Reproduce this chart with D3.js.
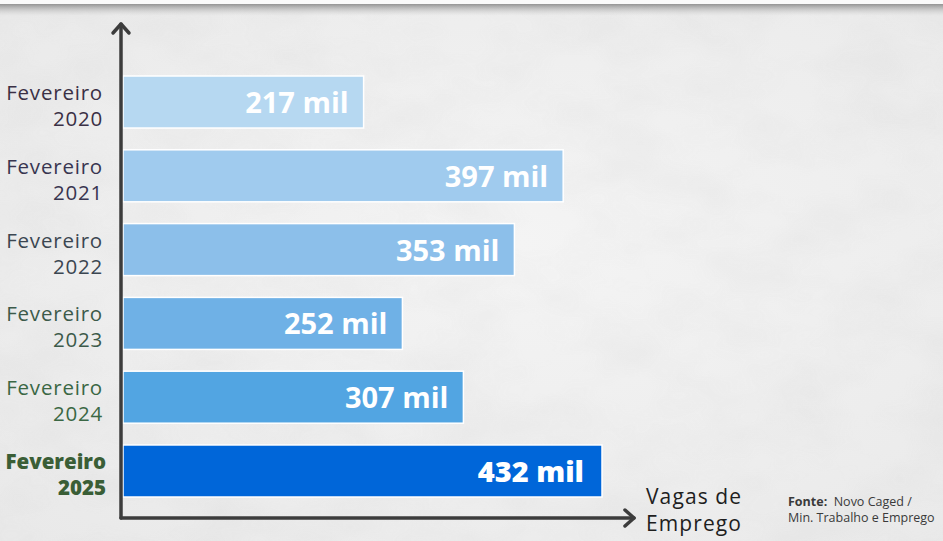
<!DOCTYPE html>
<html><head><meta charset="utf-8">
<script src="https://cdn.jsdelivr.net/npm/d3@7"></script>
<style>
html,body{margin:0;padding:0;background:#efefef;}
svg{display:block;}
</style></head>
<body>
<svg id="chart" width="943" height="541"></svg>
<script>
const categories = [["Fevereiro","2020"],["Fevereiro","2021"],["Fevereiro","2022"],["Fevereiro","2023"],["Fevereiro","2024"],["Fevereiro","2025"]];
const values = [217, 397, 353, 252, 307, 432];
const valueLabels = ["217 mil","397 mil","353 mil","252 mil","307 mil","432 mil"];
const barColors = ["#b6d8f1","#a0cbee","#8cbfea","#6fb1e6","#52a5e2","#0066d9"];
const labelColors = ["#3a3045","#383550","#3b4651","#3c5a4a","#3a6744","#3a5e36"];
const axisTitle = ["Vagas de","Emprego"];
const sourceLines = [["Fonte:","  Novo Caged /"],["","Min. Trabalho e Emprego"]];

const svg = d3.select("#chart");
const W = 943, H = 541;
const defs = svg.append("defs");

// background paper
const bg = defs.append("radialGradient").attr("id","bg").attr("cx","55%").attr("cy","45%").attr("r","75%");
bg.append("stop").attr("offset","0%").attr("stop-color","#f4f4f4");
bg.append("stop").attr("offset","100%").attr("stop-color","#e9e9e9");
svg.append("rect").attr("width",W).attr("height",H).attr("fill","url(#bg)");

// subtle crumple texture
const filt = defs.append("filter").attr("id","paper").attr("x",0).attr("y",0).attr("width","100%").attr("height","100%");
filt.append("feTurbulence").attr("type","fractalNoise").attr("baseFrequency","0.012 0.02").attr("numOctaves",3).attr("seed",7).attr("result","n");
filt.append("feColorMatrix").attr("type","matrix")
  .attr("values","0 0 0 0 0.5  0 0 0 0 0.5  0 0 0 0 0.5  0.35 0 0 0 -0.12");
svg.append("rect").attr("width",W).attr("height",H).attr("filter","url(#paper)").attr("opacity",0.55);

// top shadow band
const sh = defs.append("linearGradient").attr("id","sh").attr("x1",0).attr("y1",0).attr("x2",0).attr("y2",1);
sh.append("stop").attr("offset","0%").attr("stop-color","#8a8a8a").attr("stop-opacity",0.9);
sh.append("stop").attr("offset","100%").attr("stop-color","#cccccc").attr("stop-opacity",0);
svg.append("rect").attr("x",0).attr("y",0).attr("width",W).attr("height",4).attr("fill","#fafafa");
svg.append("rect").attr("x",0).attr("y",4).attr("width",W).attr("height",12).attr("fill","url(#sh)");

const x = d3.scaleLinear().domain([0, 432]).range([123, 602]);
const y = d3.scaleBand().domain(d3.range(values.length)).range([76, 497]).paddingInner(0.295).paddingOuter(0);

const g = svg.append("g");
g.selectAll("rect.bar").data(values).join("rect")
  .attr("class","bar")
  .attr("x", x(0))
  .attr("y", (d,i)=>y(i))
  .attr("width", d=>x(d)-x(0))
  .attr("height", y.bandwidth())
  .attr("fill", (d,i)=>barColors[i])
  .attr("stroke","#ffffff").attr("stroke-width",1.5);

g.selectAll("text.val").data(values).join("text")
  .attr("class","val")
  .attr("x", (d,i)=>x(d)-(i===5 ? 18 : 15))
  .attr("y", (d,i)=>y(i)+y.bandwidth()/2+11)
  .attr("text-anchor","end")
  .attr("font-family","'Open Sans', Lato, sans-serif")
  .attr("font-weight", (d,i)=> i===5 ? 800 : 700)
  .attr("font-size", 29)
  .attr("fill","#ffffff")
  .text((d,i)=>valueLabels[i]);

// category labels
categories.forEach((c,i)=>{
  const t = g.append("text")
    .attr("text-anchor","end")
    .attr("font-family","'Open Sans', Lato, sans-serif")
    .attr("font-size", 20.5)
    .attr("letter-spacing", i===5 ? 0 : 0.8)
    .attr("font-weight", i===5 ? 800 : 400)
    .attr("fill", labelColors[i]);
  const cy = y(i)+y.bandwidth()/2;
  const xr = i===5 ? 106 : 103;
  t.append("tspan").attr("x",xr).attr("y",cy-2).text(c[0]);
  t.append("tspan").attr("x",xr).attr("y",cy+24).text(c[1]);
});

// axes with arrows
const axisColor = "#3c3c3c";
const ax = svg.append("g").attr("stroke",axisColor).attr("fill","none").attr("stroke-width",3.5).attr("stroke-linecap","round").attr("stroke-linejoin","round");
ax.append("line").attr("x1",121).attr("y1",24).attr("x2",121).attr("y2",518);
ax.append("line").attr("x1",121).attr("y1",518).attr("x2",634).attr("y2",518);
ax.append("path").attr("d","M113,33 L121,24 L129,33");
ax.append("path").attr("d","M625,510 L634,518 L625,526");

// axis title
const at = svg.append("text").attr("font-family","'Open Sans', Lato, sans-serif").attr("font-size",21).attr("letter-spacing",1.1).attr("fill","#1e1e1e");
at.append("tspan").attr("x",646).attr("y",504).text(axisTitle[0]);
at.append("tspan").attr("x",646).attr("y",531).text(axisTitle[1]);

// source
const src = svg.append("text").attr("font-family","'Open Sans', Lato, sans-serif").attr("font-size",12.5).attr("fill","#3a3a3a").attr("xml:space","preserve");
src.append("tspan").attr("x",788).attr("y",506).attr("font-weight",700).text(sourceLines[0][0]);
src.append("tspan").text(sourceLines[0][1]);
src.append("tspan").attr("x",788).attr("y",522).text(sourceLines[1][1]);
</script>
</body></html>
